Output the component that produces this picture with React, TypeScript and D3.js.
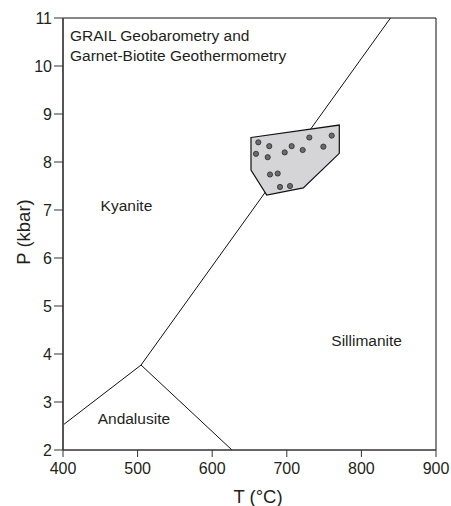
import React from "react";
import * as d3 from "d3";

const W = 451;
const H = 506;

const xTicks = [400, 500, 600, 700, 800, 900];
const yTicks = [2, 3, 4, 5, 6, 7, 8, 9, 10, 11];

// Aluminosilicate phase boundaries [T °C, P kbar]
const tripleAndKy = [[400, 2.52], [504.6, 3.77]];
const andSil = [[504.6, 3.77], [626.5, 2.0]];
const kySil = [[504.6, 3.77], [839, 11.0]];

// GRAIL P-T field polygon
const fieldPolygon = [
  [652, 8.51], [770.4, 8.77], [770.4, 8.18], [722.1, 7.46], [673.1, 7.31], [652, 7.83],
];

// Sample P-T estimates
const sampleT = [661.8, 676.5, 658.7, 674.4, 697.2, 706.5, 721.3, 730.2, 749, 760.2, 677.5, 687.8, 690.9, 704.3];
const sampleP = [8.41, 8.33, 8.17, 8.10, 8.20, 8.33, 8.25, 8.51, 8.32, 8.55, 7.74, 7.76, 7.48, 7.50];

const phaseLabels = ["Kyanite", "Sillimanite", "Andalusite"];
const labelT = [485, 807, 495];
const labelP = [6.98, 4.17, 2.54];

const titleLines = ["GRAIL Geobarometry and", "Garnet-Biotite Geothermometry"];

export default function App() {
  const x = d3.scaleLinear().domain([400, 900]).range([63, 436]);
  const y = d3.scaleLinear().domain([2, 11]).range([450, 18]);
  const line = d3.line<number[]>().x((d) => x(d[0])).y((d) => y(d[1]));
  const font = "'Liberation Sans', Arial, Helvetica, sans-serif";
  const txt = "#231f20";

  return (
    <svg
      width={W}
      height={H}
      style={{ position: "absolute", left: 0, top: 0, background: "#fff" }}
      fontFamily={font}
    >
      <rect x={0} y={0} width={W} height={H} fill="#fff" />
      <defs>
        <clipPath id="plot">
          <rect x={x(400)} y={y(11)} width={x(900) - x(400)} height={y(2) - y(11)} />
        </clipPath>
      </defs>
      {/* boundaries */}
      <g clipPath="url(#plot)" fill="none" stroke="#111" strokeWidth={1}>
        <path d={line(tripleAndKy as any) || ""} />
        <path d={line(andSil as any) || ""} />
        <path d={line(kySil as any) || ""} />
      </g>
      {/* field */}
      <path
        d={(line(fieldPolygon as any) || "") + "Z"}
        fill="#d5d5d8"
        stroke="#111"
        strokeWidth={1.2}
        strokeLinejoin="miter"
      />
      {sampleT.map((t, i) => (
        <circle key={i} cx={x(t)} cy={y(sampleP[i])} r={2.6} fill="#6b6b6e" stroke="#2a2a2a" strokeWidth={0.8} />
      ))}
      {/* frame top/right */}
      <line x1={x(400)} x2={x(900)} y1={y(11)} y2={y(11)} stroke="#111" strokeWidth={1} />
      <line x1={x(900)} x2={x(900)} y1={y(11)} y2={y(2)} stroke="#111" strokeWidth={1} />
      {/* axes */}
      <line x1={x(400)} x2={x(400)} y1={y(11)} y2={y(2)} stroke="#555" strokeWidth={2} />
      <line x1={x(400)} x2={x(900)} y1={y(2)} y2={y(2)} stroke="#333" strokeWidth={1.5} />
      {xTicks.map((t) => (
        <g key={t}>
          <line x1={x(t)} x2={x(t)} y1={y(2)} y2={y(2) + 7} stroke="#333" strokeWidth={1} />
          <text x={x(t)} y={474} textAnchor="middle" fontSize={16} fill={txt}>
            {t}
          </text>
        </g>
      ))}
      {yTicks.map((t) => (
        <g key={t}>
          <line x1={x(400) - 9} x2={x(400)} y1={y(t)} y2={y(t)} stroke="#333" strokeWidth={1} />
          <text x={52} y={y(t)} dy="0.36em" textAnchor="end" fontSize={16} fill={txt}>
            {t}
          </text>
        </g>
      ))}
      <text x={258} y={503} textAnchor="middle" fontSize={18.5} fill={txt}>
        T (°C)
      </text>
      <text
        transform={`translate(30,232) rotate(-90)`}
        textAnchor="middle"
        fontSize={18.5}
        fill={txt}
      >
        P (kbar)
      </text>
      {phaseLabels.map((l, i) => (
        <text key={l} x={x(labelT[i])} y={y(labelP[i])} textAnchor="middle" fontSize={15.5} fill={txt}>
          {l}
        </text>
      ))}
      {titleLines.map((l, i) => (
        <text key={i} x={70} y={41 + i * 19.5} fontSize={15.5} fill={txt}>
          {l}
        </text>
      ))}
    </svg>
  );
}
